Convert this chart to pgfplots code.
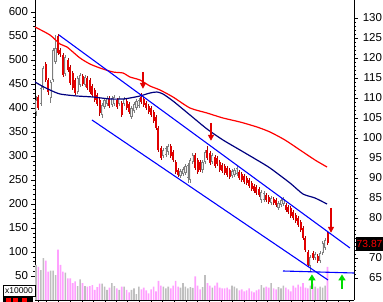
\documentclass[border=0pt]{standalone}
\usepackage{pgfplots}
\pgfplotsset{compat=1.18}
\usepackage{pgfplotstable}
\usepackage{fontspec}
\setmainfont{Liberation Sans}
\usetikzlibrary{arrows.meta}

\definecolor{cred}{RGB}{225,0,0}
\definecolor{cgray}{RGB}{125,125,125}
\definecolor{cfill}{RGB}{240,240,240}
\definecolor{vpink}{RGB}{255,160,255}
\definecolor{vgray}{RGB}{190,190,190}
\definecolor{mared}{RGB}{255,0,0}
\definecolor{manavy}{RGB}{0,0,128}
\definecolor{chblue}{RGB}{0,0,255}
\definecolor{agreen}{RGB}{0,220,0}

% red (falling) candles: index, body low, body high, wick low, wick high
\pgfplotstableread{
i bl bh wl wh
1 107.5 110.25 107 110.75
4 114.5 118.5 114 119
5 111.5 114.5 110.75 115
9 121.25 125.5 120.75 126
10 121 122 120.25 122.5
11 115.75 120.75 115.25 121.25
13 117 119.5 116.5 120
14 113.75 117.75 113.25 118.25
15 112.5 116.25 112 116.75
16 111.25 114.5 110.75 115
19 113.5 115.5 113 116
21 112.5 115 112 115.5
22 111.5 114.5 111 115
23 110.75 113 110.25 113.5
24 109.5 112 109 112.5
25 108.5 110.75 108 111.25
26 106.25 109.5 105.5 110
30 108 110 107.5 110.5
33 107.75 109.5 107.25 110
35 105.75 108.75 105.25 109.25
37 107.5 109.25 107 109.75
38 106.5 108.5 106 109
43 109 110.25 108.5 111.25
44 108.25 109.75 107.75 110.25
45 107.5 108.75 107 109.25
46 106.5 108 106 108.5
47 105.75 107.5 105.25 108
48 104.25 106.5 103.75 107
49 102.5 105.25 102 105.75
50 97 102.5 96.5 103
51 95 97.5 94.5 98
55 95.5 98 95 98.5
56 94.5 96.5 94 97
57 91.5 94 91 94.5
58 90.75 92 90.25 92.5
65 92.5 95.75 92 96.25
66 91.5 94.5 91 95
67 92 94 91.5 94.5
70 95 97 94.5 98
71 93.75 96.25 93.25 96.75
73 93 95.25 92.5 95.75
74 93.5 95 93 95.5
75 92 94 91.5 94.5
76 91.75 93.25 91.25 93.75
77 91.25 93 90.75 93.5
78 90.75 92.5 90.25 93
79 90.25 92 89.75 92.5
83 90 91.5 89.5 92
84 89.5 91 89 91.5
85 89 90.5 88.5 91
86 88.75 90 88.25 90.5
87 88 89.5 87.5 90
88 87.25 88.75 86.75 89.25
89 86.75 88 86.25 88.5
90 86.25 87.75 85.75 88.25
91 85.75 87.25 85.25 87.75
94 84.5 85.75 84 86.25
95 84 85.25 83.5 85.75
97 83.75 84.75 83.25 85.25
98 83.25 84.5 82.75 85
102 82 83.25 81.5 83.75
103 81.5 82.75 81 83.25
104 80.5 82.5 80 83
105 80 81.5 79.5 82
106 79.25 80.75 78.75 81.25
107 78.25 80 77.75 80.5
108 77 79 76.5 79.5
109 75 77.5 74.5 78
110 72 75 71.5 75.5
111 68.25 71.5 67.75 72
113 70 71.25 69.5 71.75
115 69.25 70.5 68.75 71
119 73.87 76.25 73.25 76.75
}\redc

% grey (rising) candles
\pgfplotstableread{
i bl bh wl wh
0 106.5 109.5 105.5 110.5
2 108.5 112.5 108 113
3 112.5 117.5 112 118
6 110 114 108.75 114.5
7 114.5 122 114 122.5
8 119 122.5 118.5 125.75
12 116 120.25 115.5 120.75
17 111.5 115 111 115.5
18 113.25 115.75 112.75 116.25
20 113.25 115.25 112.75 115.75
27 105.75 108.25 105 108.75
28 107.75 109.5 107.25 110
29 108.5 110 108 110.5
31 108.25 110 107.75 110.5
32 108.5 110.25 108 110.75
34 108.5 110 108 110.5
36 108.5 109.75 108 110.25
39 105.25 107.5 104.75 108
40 106.75 108.5 106.25 109
41 107.5 109.25 107 109.75
42 108 109.5 107.5 110
52 95.5 97 95 97.5
53 95.75 97.5 95.25 98
54 96.5 98 95.75 98.5
59 90.5 91.75 90 92.25
60 91 92.25 90.5 92.75
61 91.25 93 90.75 93.5
62 90 93.25 88.75 93.75
63 89.5 94.5 88.75 95
64 94 95.75 93.5 96.25
68 92 94 91.25 94.5
69 94 96.5 93.5 97
72 94 95.75 93.5 96.25
80 90.5 91.75 90 92.25
81 90.75 92 90.25 92.5
82 91 92.5 90.5 93
92 84.5 86.5 83.75 87
93 84.5 86.25 84 86.75
96 83.75 85 83.25 85.5
99 82.5 83.75 82 84.25
100 83.25 84.5 82.75 85
101 83.5 84.75 83 85.25
112 68 70.25 66.5 70.75
114 70 71 69.5 71.5
116 69.25 71.25 68.75 71.75
117 71.25 73.75 70.75 74.25
118 72.5 74.5 72 75
}\grayc

% volume (x10000), pink = falling days, grey = rising days
\pgfplotstableread{
i v
1 69
4 82
5 59
9 105
10 73
11 59
13 45
14 45
15 35
16 39
19 35
21 28
22 29
23 31
24 21
25 27
26 34
30 26
33 24
35 28
37 21
38 16
43 22
44 26
45 20
46 14
47 22
48 28
49 18
50 40
51 30
55 24
56 30
57 40
58 28
65 49
66 30
67 22
70 35
71 30
73 30
74 36
75 26
76 24
77 24
78 26
79 22
83 20
84 22
85 18
86 20
87 24
88 18
89 16
90 20
91 22
94 28
95 26
97 24
98 22
102 26
103 22
104 18
105 30
106 26
107 32
108 28
109 35
110 26
111 24
113 34
115 24
119 69
}\volpink

\pgfplotstableread{
i v
0 73
2 62
3 87
6 61
7 61
8 52
12 57
17 29
18 43
20 29
27 34
28 28
29 21
31 35
32 29
34 21
36 28
39 21
40 24
41 12
42 28
52 28
53 24
54 28
59 26
60 35
61 28
62 24
63 27
64 25
68 27
69 52
72 26
80 30
81 28
82 24
92 31
93 26
96 35
99 27
100 24
101 30
112 30
114 28
116 28
117 26
118 30
}\volgray

\pgfplotsset{
  common/.style={
    scale only axis, width=319pt, height=300pt,
    xmin=-0.4, xmax=129.8,
    tick align=outside, major tick length=3.5pt, minor tick length=2pt,
    tick style={black, line width=0.5pt},
    axis line style={black, line width=0.6pt},
    /pgf/number format/assume math mode=true,
    ticklabel style={font=\fontsize{11.5}{12}\selectfont},
  },
}

\begin{document}
\begin{tikzpicture}
% ---------- volume axis (left scale) ----------
\begin{axis}[common,
  ymin=0, ymax=625,
  axis y line*=left, axis x line*=bottom,
  ytick={50,100,...,600}, minor y tick num=4,
  xtick={0.8,4.1,9.0,13.9,18.8,23.3,28.2,32.7,37.1,42.0,46.9,51.4,56.3,61.2,65.7,70.6,75.5,80.0,84.9,89.8,94.3,99.2,104.1,108.6,113.5,118.4,123.3,127.8},
  xticklabels={},
]
\addplot[ybar, bar width=1.6pt, bar shift=0pt, fill=vpink, draw=none] table[x=i,y=v]{\volpink};
\addplot[ybar, bar width=1.6pt, bar shift=0pt, fill=vgray, draw=none] table[x=i,y=v]{\volgray};
\end{axis}

% ---------- price axis (right scale) ----------
\begin{axis}[common,
  ymin=59.5, ymax=134.5,
  axis y line*=right, axis x line=none,
  ytick={65,70,...,130}, minor y tick num=4,
  yticklabels={65,70,{},80,85,90,95,100,105,110,115,120,125,130},
  yticklabel style={anchor=east, xshift=28pt},
]
% wicks
\addplot[draw=none, mark=none, error bars/.cd, y dir=plus, y explicit, error mark=none,
  error bar style={draw=cred!75!black, line width=0.6pt}]
  table[x=i, y=wl, y error expr=\thisrow{wh}-\thisrow{wl}]{\redc};
\addplot[draw=none, mark=none, error bars/.cd, y dir=plus, y explicit, error mark=none,
  error bar style={draw=cgray, line width=0.6pt}]
  table[x=i, y=wl, y error expr=\thisrow{wh}-\thisrow{wl}]{\grayc};
% bodies
\addplot[draw=none, mark=none, error bars/.cd, y dir=plus, y explicit, error mark=none,
  error bar style={draw=cred, line width=2.0pt}]
  table[x=i, y=bl, y error expr=\thisrow{bh}-\thisrow{bl}]{\redc};
\addplot[draw=none, mark=none, error bars/.cd, y dir=plus, y explicit, error mark=none,
  error bar style={draw=cgray, line width=2.2pt}]
  table[x=i, y=bl, y error expr=\thisrow{bh}-\thisrow{bl}]{\grayc};
\addplot[draw=none, mark=none, error bars/.cd, y dir=plus, y explicit, error mark=none,
  error bar style={draw=cfill, line width=0.8pt}]
  table[x=i, y expr=\thisrow{bl}+0.2, y error expr=\thisrow{bh}-\thisrow{bl}-0.4]{\grayc};

% moving averages
\addplot[mared, line width=1.2pt, smooth, tension=0.4] coordinates {
(-0.4,127.75) (5.71,125.75) (9.80,123.5) (12.65,122.75) (17.96,120) (22.04,118.5)
(26.12,117.5) (31.43,116.5) (35.51,116.25) (38.37,115.25) (42.45,114.5) (46.53,113)
(50.61,112) (55.92,110.25) (62.86,107.5) (69.80,106.25) (76.33,105) (83.27,104)
(90.20,102.75) (95.51,101.5) (101.63,99.5) (107.76,97) (113.88,94.5) (118.78,92.75)};
\addplot[manavy, line width=1.2pt, smooth, tension=0.4] coordinates {
(-0.4,114) (2.45,113) (5.71,112) (9.80,111) (16.73,110.5) (23.27,110.25)
(30.20,109.75) (35.51,109.75) (38.37,110) (42.45,110.5) (46.53,111.25) (49.39,111.5)
(51.84,111) (55.92,109.25) (62.86,105.75) (69.80,102.25) (76.33,99.5) (83.27,97)
(90.20,94.5) (95.51,92.5) (103.67,88.75) (108.98,86) (113.88,85) (118.78,83.5)};

% trend channel
\addplot[chblue, line width=1.1pt] coordinates {(9.39,125.75) (128.16,72.5)};
\addplot[chblue, line width=1.1pt] coordinates {(22.86,104.5) (119.18,64.5)};
\addplot[chblue, line width=1.1pt] coordinates {(100.82,66.75) (129.8,66.25)};

% arrows
\draw[cred, line width=1.4pt, -{Triangle[width=6pt,length=6pt]}] (axis cs:43.67,116.5) -- (axis cs:43.67,112.3);
\draw[cred, line width=1.4pt, -{Triangle[width=6pt,length=6pt]}] (axis cs:71.43,103.75) -- (axis cs:71.43,99.3);
\draw[cred, line width=1.4pt, -{Triangle[width=6pt,length=6pt]}] (axis cs:120.41,82.5) -- (axis cs:120.41,76.3);
\draw[agreen, line width=1.8pt, -{Triangle[width=7pt,length=6pt]}] (axis cs:112.65,62.3) -- (axis cs:112.65,65.9);
\draw[agreen, line width=1.8pt, -{Triangle[width=7pt,length=6pt]}] (axis cs:124.9,62.3) -- (axis cs:124.9,65.9);
\end{axis}

% current price tag
\fill[black] (321pt,49pt) rectangle (348pt,63pt);
\node[text=red, anchor=west, inner sep=0pt,
  font=\fontsize{10.3}{11}\selectfont] at (321.5pt,56pt) {73.87};
% volume unit box
\node[draw=black, fill=white, line width=0.5pt, inner sep=0pt, minimum width=32pt,
  minimum height=11pt, font=\fontsize{8.5}{9}\selectfont] at (-16pt,9.5pt) {x10000};
\fill[black] (-32pt,-2pt) rectangle (-2pt,3pt);
\fill[red] (-29pt,-2pt) rectangle (-24pt,1.5pt);
\fill[red] (-22pt,-2pt) rectangle (-17pt,1.5pt);
\fill[red] (-13pt,-2pt) rectangle (-8pt,1.5pt);

\pgfresetboundingbox
\useasboundingbox (-35pt,-2pt) rectangle (348pt,300pt);
\end{tikzpicture}
\end{document}
